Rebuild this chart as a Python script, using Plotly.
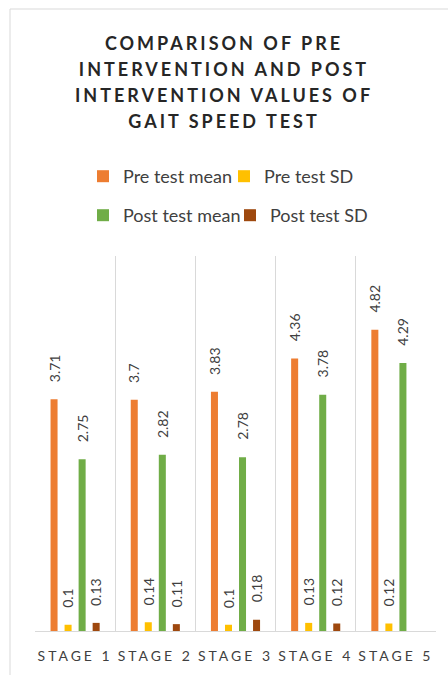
import plotly.graph_objects as go

stages = ["STAGE 1", "STAGE 2", "STAGE 3", "STAGE 4", "STAGE 5"]
pre_mean = [3.71, 3.7, 3.83, 4.36, 4.82]
pre_sd = [0.1, 0.14, 0.1, 0.13, 0.12]
post_mean = [2.75, 2.82, 2.78, 3.78, 4.29]
post_sd = [0.13, 0.11, 0.18, 0.12, None]
series_names = ["Pre test mean", "Pre test SD", "Post test mean", "Post test SD"]
series_values = [pre_mean, pre_sd, post_mean, post_sd]
colors = ["#ED7D31", "#FFC000", "#70AD47", "#9E480E"]
legend_ids = ["legend", "legend", "legend2", "legend2"]
legend_widths = [96, None, 102, None]
title_lines = ["COMPARISON OF PRE", "INTERVENTION AND POST",
               "INTERVENTION VALUES OF", "GAIT SPEED TEST"]

FONT = "Lato, 'Open Sans', sans-serif"
TXT = "#404040"

W, H = 448, 675
ml, mr, mt, mb = 35, 12, 256, 44
pw = W - ml - mr
ph = H - mt - mb

fig = go.Figure()
for name, vals, col, lg, lw in zip(series_names, series_values, colors, legend_ids, legend_widths):
    fig.add_trace(go.Bar(x=stages, y=vals, name=name, marker_color=col,
                         marker_line_width=0, legend=lg, legendwidth=lw))

# data labels
slot = pw / len(stages) * (1 - 0.3) / 4
for i, vals in enumerate(series_values):
    for st, v in zip(stages, vals):
        if v is None:
            continue
        fig.add_annotation(x=st, y=v, text=str(v), textangle=-90, showarrow=False,
                           xanchor="center", yanchor="bottom",
                           xshift=(i - 1.5) * slot, yshift=15,
                           font=dict(family=FONT, size=14, color=TXT))

title_html = "<br>".join(
    f"<span style='font-size:18px;letter-spacing:3px'>{t}</span>" for t in title_lines)

tick_html = [f"<span style='letter-spacing:3px'>{s}</span>" for s in stages]

fig.update_layout(
    width=W, height=H,
    margin=dict(l=ml, r=mr, t=mt, b=mb),
    paper_bgcolor="white", plot_bgcolor="white",
    barmode="group", bargap=0.3, bargroupgap=0.5,
    title=dict(text=title_html, x=0.5, xref="container", xanchor="center",
               y=1 - 50 / H, yref="container", yanchor="top",
               font=dict(family=FONT, size=20, color="#262626", weight="bold")),
    legend=dict(orientation="h", x=(83 - ml) / pw, xanchor="left",
                y=(H - mb - 158) / ph, yanchor="top",
                font=dict(family=FONT, size=18, color=TXT)),
    legend2=dict(orientation="h", x=(83 - ml) / pw, xanchor="left",
                 y=(H - mb - 197) / ph, yanchor="top",
                 font=dict(family=FONT, size=18, color=TXT)),
    xaxis=dict(type="category", tickvals=stages, ticktext=tick_html, tickangle=0,
               automargin=False,
               showgrid=True, gridcolor="#d9d9d9", gridwidth=1, tickson="boundaries",
               showline=True, linecolor="#d9d9d9", linewidth=1, ticks="",
               ticklabelstandoff=12,
               tickfont=dict(family=FONT, size=14, color=TXT)),
    yaxis=dict(range=[0, 6], showgrid=False, showticklabels=False, zeroline=False,
               automargin=False),
    showlegend=True,
)

fig.add_shape(type="rect", xref="paper", yref="paper",
              x0=(10 - ml) / pw, x1=1.2, y0=-0.3, y1=(H - mb - 9) / ph,
              line=dict(color="#d9d9d9", width=1), fillcolor="rgba(0,0,0,0)", layer="below")

fig.write_html("out.html", config={"displayModeBar": False},
               post_script="document.body.style.margin='0px';")
